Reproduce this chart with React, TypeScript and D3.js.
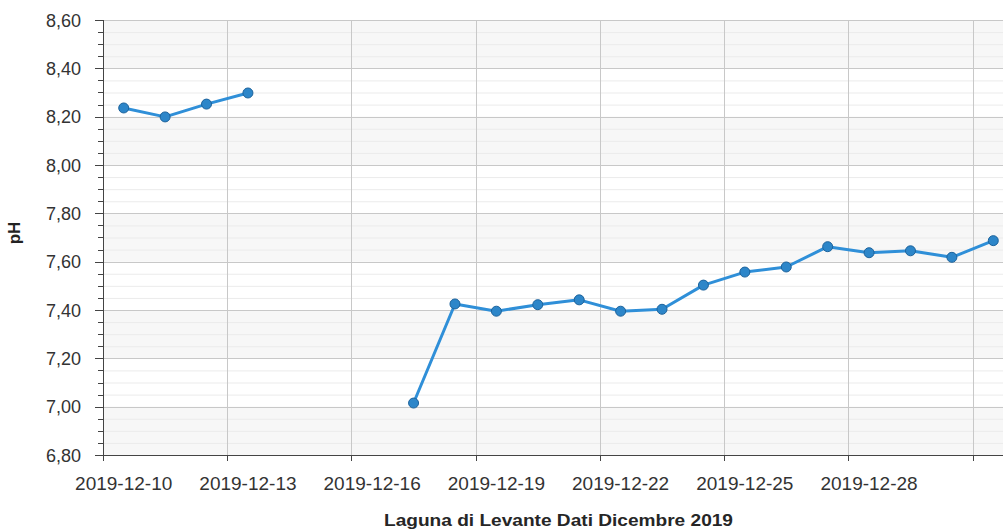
import React from 'react';
import * as d3 from 'd3';

// pH readings, one per day; null = no measurement
const days = [
  '2019-12-10', '2019-12-11', '2019-12-12', '2019-12-13', '2019-12-14', '2019-12-15',
  '2019-12-16', '2019-12-17', '2019-12-18', '2019-12-19', '2019-12-20', '2019-12-21',
  '2019-12-22', '2019-12-23', '2019-12-24', '2019-12-25', '2019-12-26', '2019-12-27',
  '2019-12-28', '2019-12-29', '2019-12-30', '2019-12-31',
];
const ph = [
  8.236, 8.199, 8.252, 8.298, null, null,
  null, 7.015, 7.425, 7.395, 7.422, 7.442,
  7.395, 7.403, 7.503, 7.557, 7.578, 7.662,
  7.637, 7.645, 7.618, 7.687,
];
const xTickLabels = ['2019-12-10', '2019-12-13', '2019-12-16', '2019-12-19', '2019-12-22', '2019-12-25', '2019-12-28'];
const xTitle = 'Laguna di Levante Dati Dicembre 2019';
const yTitle = 'pH';

const width = 1003;
const height = 532;
const margin = { top: 20, left: 103, bottom: 455, right: 1014 };
const font = '"Liberation Sans", Arial, sans-serif';

const parse = d3.utcParse('%Y-%m-%d');
const HALF_DAY = 12 * 3600 * 1000;
const itFormat = d3.formatLocale({ decimal: ',', thousands: '.', grouping: [3], currency: ['', ''] }).format('.2f');

const App = () => {
  const x = d3
    .scaleUtc()
    .domain([parse('2019-12-10'), parse('2020-01-01')])
    .range([margin.left, margin.right]);
  const y = d3.scaleLinear().domain([6.8, 8.6]).range([margin.bottom, margin.top]);

  const majors = y.ticks(9);
  const minors = y.ticks(36).filter((t) => !majors.some((m) => Math.abs(m - t) < 1e-9));
  const xGrid = x.ticks(d3.utcDay.every(3));

  const pts = days.map((d, i) => ({ t: +parse(d) + HALF_DAY, v: ph[i] }));
  const line = d3
    .line()
    .defined((d) => d.v != null)
    .x((d) => x(d.t))
    .y((d) => y(d.v));

  return (
    <svg
      width={width}
      height={height}
      style={{ position: 'absolute', left: 0, top: 0, background: '#fff' }}
      fontFamily={font}
    >
      {/* alternating bands */}
      {majors.slice(0, -1).map((m, i) =>
        i % 2 === 0 ? (
          <rect
            key={'b' + i}
            x={margin.left}
            width={margin.right - margin.left}
            y={y(majors[i + 1])}
            height={y(m) - y(majors[i + 1])}
            fill="#f7f7f7"
          />
        ) : null
      )}
      {minors.map((t) => (
        <line key={'mg' + t} x1={margin.left} x2={margin.right} y1={y(t) + 0.5} y2={y(t) + 0.5} stroke="#ebebeb" />
      ))}
      {majors.map((t) => (
        <line key={'g' + t} x1={margin.left} x2={margin.right} y1={Math.round(y(t)) + 0.5} y2={Math.round(y(t)) + 0.5} stroke="#c8c8c8" />
      ))}
      {xGrid.map((d) => (
        <line key={'xg' + +d} x1={Math.round(x(d)) + 0.5} x2={Math.round(x(d)) + 0.5} y1={margin.top} y2={margin.bottom} stroke="#c8c8c8" />
      ))}

      {/* y axis */}
      <line x1={margin.left + 0.5} x2={margin.left + 0.5} y1={margin.top} y2={margin.bottom + 1} stroke="#444" />
      {majors.map((t) => (
        <g key={'yt' + t}>
          <line x1={margin.left - 8} x2={margin.left} y1={Math.round(y(t)) + 0.5} y2={Math.round(y(t)) + 0.5} stroke="#444" />
          <text x={81} y={y(t) + 6.5} textAnchor="end" fontSize={18} fill="#333">
            {itFormat(t)}
          </text>
        </g>
      ))}
      {minors.map((t) => (
        <line key={'ym' + t} x1={margin.left - 5} x2={margin.left} y1={Math.round(y(t)) + 0.5} y2={Math.round(y(t)) + 0.5} stroke="#444" />
      ))}

      {/* x axis */}
      <line x1={margin.left} x2={margin.right} y1={margin.bottom + 0.5} y2={margin.bottom + 0.5} stroke="#444" />
      {xGrid.map((d) => (
        <line key={'xt' + +d} x1={Math.round(x(d)) + 0.5} x2={Math.round(x(d)) + 0.5} y1={margin.bottom} y2={margin.bottom + 6} stroke="#444" />
      ))}
      {xTickLabels.map((l) => (
        <text key={l} x={x(+parse(l) + HALF_DAY)} y={490} textAnchor="middle" fontSize={19} fill="#333">
          {l}
        </text>
      ))}

      {/* series */}
      <path d={line(pts)} fill="none" stroke="#2f8fd8" strokeWidth={3} strokeLinejoin="round" />
      {pts
        .filter((d) => d.v != null)
        .map((d) => (
          <circle key={d.t} cx={x(d.t)} cy={y(d.v)} r={5} fill="#2d86c9" stroke="#1d639c" strokeWidth={1} />
        ))}

      {/* titles */}
      <text
        x={558.5}
        y={526}
        textAnchor="middle"
        fontSize={17}
        fontWeight="bold"
        fill="#262626"
        textLength={349}
        lengthAdjust="spacingAndGlyphs"
      >
        {xTitle}
      </text>
      <text transform="translate(20,233) rotate(-90)" textAnchor="middle" fontSize={17} fontWeight="bold" fill="#222">
        {yTitle}
      </text>
    </svg>
  );
};

export default App;
